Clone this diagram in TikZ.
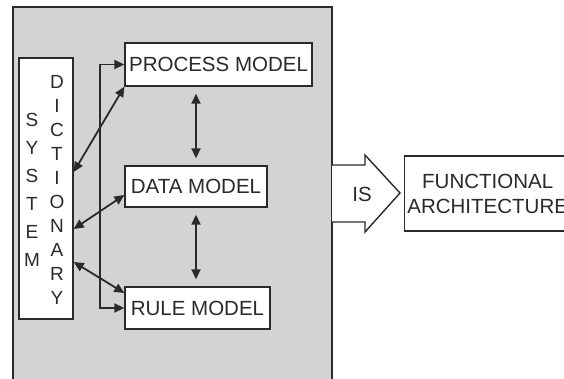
\documentclass[tikz,border=0pt]{standalone}
\usepackage{fontspec}
\setmainfont{Liberation Sans}
\usetikzlibrary{arrows.meta,calc}
\definecolor{panel}{HTML}{D3D3D3}
\definecolor{ink}{HTML}{2A2A2A}
\begin{document}
\begin{tikzpicture}[x=1pt,y=-1pt,
  box/.style={draw=ink, line width=1.4pt, fill=white, inner sep=0pt, text=ink,
    font=\fontsize{20.5}{23}\selectfont},
  letters/.style={align=center, inner sep=0pt, text=ink},
  dbl/.style={ink, line width=1.8pt,
    {Triangle[length=10pt,width=9pt]}-{Triangle[length=10pt,width=9pt]}},
  lbl/.style={text=ink, inner sep=0pt, font=\fontsize{20.5}{23}\selectfont}]
\useasboundingbox (0,0) rectangle (564,379);
\clip (0,0) rectangle (564,379);
\fill[white] (0,0) rectangle (564,379);
\draw[draw=ink, line width=2pt, fill=panel] (13,7) rectangle (332,390);

\node[box, minimum width=187pt, minimum height=43pt] (process) at (218.5,64.5) {PROCESS MODEL};
\node[box, minimum width=142pt, minimum height=41pt] (data) at (196,186.5) {DATA MODEL};
\node[box, minimum width=145pt, minimum height=42pt] (rule) at (197.5,308) {RULE MODEL};
\node[box, minimum width=54pt, minimum height=261pt] (dict) at (46,188.5) {};
\node[letters, font=\fontsize{19}{28}\selectfont] (sys) at (32,190) {S\\Y\\S\\T\\E\\M};
\node[letters, font=\fontsize{19}{24}\selectfont] (dic) at (57,190) {D\\I\\C\\T\\I\\O\\N\\A\\R\\Y};

\coordinate (bus) at (100,186);
\draw[dbl] (process.west) -| (bus) |- (rule.west);
\draw[dbl] ($(dict.east)+(0,-16.5)$) -- (process.south west);
\draw[dbl] ($(dict.east)+(0,40.5)$) -- ($(data.west)+(0,8.5)$);
\draw[dbl] ($(dict.east)+(0,73.5)$) -- ($(rule.west)+(0,-15)$);
\draw[dbl, shorten <=7pt, shorten >=7pt] (data.north |- process.south) -- (data.north);
\draw[dbl, shorten <=7pt, shorten >=7pt] (data.south) -- (data.south |- rule.north);

\draw[ink, line width=1.4pt, fill=white, line join=miter]
  (332,165) -- (365,165) -- (365,155) -- (400,193) -- (365,232) -- (365,222) -- (332,222);
\node[lbl] (is) at (362,194) {IS};
\node[box, align=center, minimum width=166pt, minimum height=75pt, anchor=west,
  font=\fontsize{20.5}{25}\selectfont] (fa) at (404,193.5) {FUNCTIONAL\\ARCHITECTURE};
\end{tikzpicture}
\end{document}
